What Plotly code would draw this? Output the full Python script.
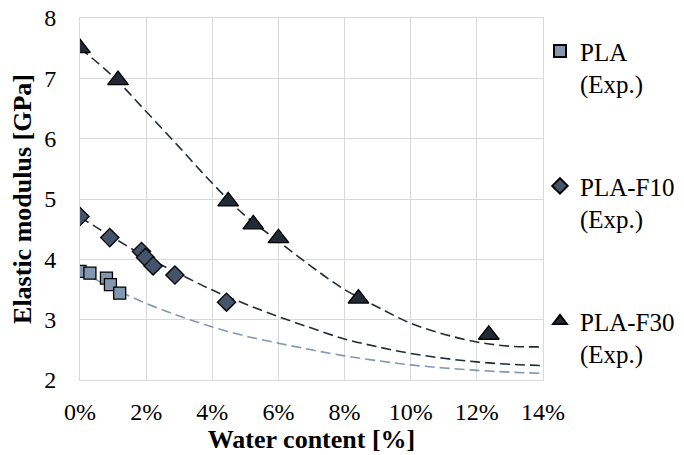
import plotly.graph_objects as go

# ---- data ----
pla_x = [0.0, 0.3, 0.8, 0.92, 1.2]
pla_y = [3.80, 3.77, 3.69, 3.58, 3.44]

f10_x = [0.0, 0.9, 1.86, 1.98, 2.21, 2.87, 4.43]
f10_y = [4.71, 4.36, 4.13, 4.03, 3.89, 3.74, 3.29]

f30_x = [0.0, 1.15, 4.48, 5.24, 6.0, 8.42, 12.36]
f30_y = [7.50, 6.97, 4.96, 4.58, 4.35, 3.35, 2.75]

# dashed trend curves (at 1 % steps)
fit_x = [0, 1, 2, 3, 4, 5, 6, 7, 8, 9, 10, 11, 12, 13, 14]
pla_fit = [3.80, 3.52, 3.27, 3.06, 2.88, 2.73, 2.61, 2.50, 2.40, 2.32, 2.25, 2.20, 2.16, 2.13, 2.11]
f10_fit = [4.70, 4.36, 4.04, 3.76, 3.49, 3.26, 3.05, 2.86, 2.68, 2.55, 2.44, 2.36, 2.30, 2.26, 2.24]
f30_fit = [7.50, 7.03, 6.45, 5.86, 5.26, 4.72, 4.30, 3.88, 3.50, 3.21, 2.94, 2.76, 2.63, 2.56, 2.55]

x_ticks = [0, 2, 4, 6, 8, 10, 12, 14]
x_ticktext = ["0%", "2%", "4%", "6%", "8%", "10%", "12%", "14%"]
y_ticks = [2, 3, 4, 5, 6, 7, 8]

names = ["PLA<br>(Exp.)", "PLA-F10<br>(Exp.)", "PLA-F30<br>(Exp.)"]

C_PLA = "#8497B0"
C_F10 = "#44546A"
C_F30 = "#222B35"
C_LINE = "#222B35"
FONT = "Liberation Serif"

fig = go.Figure()

dash = "10px,5px"
for fy, col in ((pla_fit, C_PLA), (f10_fit, C_LINE), (f30_fit, C_LINE)):
    fig.add_trace(go.Scatter(x=fit_x, y=fy, mode="lines",
                             line=dict(color=col, width=1.6, dash=dash, shape="spline"),
                             showlegend=False, hoverinfo="skip"))

fig.add_trace(go.Scatter(x=pla_x, y=pla_y, mode="markers", name=names[0], legendgroup="a",
                         marker=dict(symbol="square", size=12, color=C_PLA, line=dict(color="black", width=1.3))))
fig.add_trace(go.Scatter(x=f10_x, y=f10_y, mode="markers", name=names[1], legendgroup="b",
                         marker=dict(symbol="diamond", size=14, color=C_F10, line=dict(color="black", width=1.3))))
fig.add_trace(go.Scatter(x=f30_x, y=f30_y, mode="markers", name=names[2], legendgroup="c",
                         marker=dict(symbol="triangle-up", size=18, color=C_F30, line=dict(color="black", width=1.3))))

grid = "#D9D9D9"
# the page body has an 8px margin, so the figure is sized/offset to compensate
fig.update_layout(
    template="none",
    width=676, height=447,
    margin=dict(l=72, r=141, t=10, b=75, pad=0, autoexpand=False),
    paper_bgcolor="white", plot_bgcolor="white",
    font=dict(family=FONT, size=24, color="black"),
    showlegend=True,
    legend=dict(x=0.9935, xanchor="left", y=0.972, yanchor="top",
                font=dict(family=FONT, size=25, color="black"),
                itemsizing="constant", tracegroupgap=67, valign="top",
                bgcolor="rgba(0,0,0,0)", borderwidth=0),
    xaxis=dict(range=[0, 14], tickvals=x_ticks, ticktext=x_ticktext,
               tickfont=dict(family=FONT, size=24, color="black"),
               showgrid=True, gridcolor=grid, gridwidth=1,
               showline=True, linecolor=grid, linewidth=1, mirror=True,
               zeroline=False, ticks="", ticklabelstandoff=10, automargin=False,
               ticklabeloverflow="allow",
               title=dict(text="<b>Water content [%]</b>", font=dict(family=FONT, size=26, color="black"), standoff=0)),
    yaxis=dict(range=[2, 8], tickvals=y_ticks,
               tickfont=dict(family=FONT, size=24, color="black"),
               showgrid=True, gridcolor=grid, gridwidth=1,
               showline=True, linecolor=grid, linewidth=1, mirror=True,
               zeroline=False, ticks="", ticklabelstandoff=18, automargin=False,
               ticklabeloverflow="allow",
               title=dict(text="<b>Elastic modulus [GPa]</b>", font=dict(family=FONT, size=26, color="black"), standoff=6)),
)

fig.write_html("out.html")
